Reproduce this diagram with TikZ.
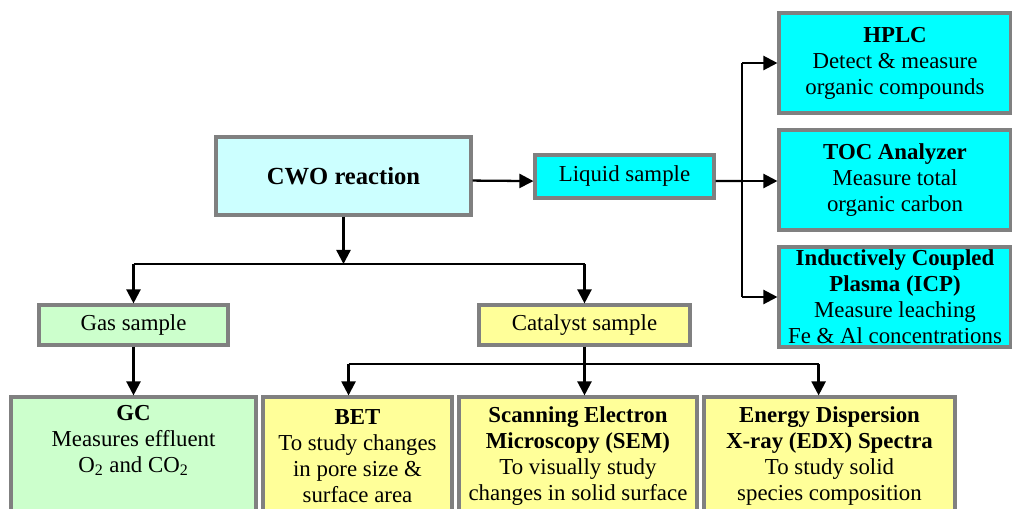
\documentclass[tikz,border=0pt]{standalone}
\usepackage{fontspec}
\setmainfont{Liberation Serif}
\usetikzlibrary{arrows.meta}
\definecolor{boxgray}{HTML}{808080}
\definecolor{cwofill}{HTML}{CCFFFF}
\definecolor{liqfill}{HTML}{00FFFF}
\definecolor{gasfill}{HTML}{CCFFCC}
\definecolor{catfill}{HTML}{FFFF99}
\tikzset{
  box/.style={draw=boxgray,line width=1.8pt,align=center,inner sep=0pt,
    font=\fontsize{13}{14.8}\selectfont},
  arr/.style={line width=1.3pt,-{Triangle[length=8pt,width=8pt]}},
  link/.style={line width=1.3pt},
}
\begin{document}
\begin{tikzpicture}[x=0.02cm,y=-0.02cm]
  \clip (0,0) rectangle (1012,508);
  \fill[white] (0,0) rectangle (1012,508);
  % reaction and liquid branch
  \node[box,fill=cwofill,minimum width=5.1cm,minimum height=1.56cm,font=\fontsize{14}{16}\selectfont\bfseries]
    (cwo) at (343.5,176) {CWO reaction};
  \node[box,fill=liqfill,minimum width=3.58cm,minimum height=0.86cm] (liquid) at (624.5,176.5) {Liquid sample};
  \node[box,fill=liqfill,minimum width=4.64cm,minimum height=2cm] (hplc) at (895,63)
    {\textbf{HPLC}\\Detect \& measure\\organic compounds};
  \node[box,fill=liqfill,minimum width=4.64cm,minimum height=2cm] (toc) at (895,180)
    {\textbf{TOC Analyzer}\\Measure total\\organic carbon};
  \node[box,fill=liqfill,minimum width=4.64cm,minimum height=2cm] (icp) at (895,297)
    {\textbf{Inductively Coupled}\\\textbf{Plasma (ICP)}\\Measure leaching\\Fe \& Al concentrations};
  % gas and catalyst branch
  \node[box,fill=gasfill,minimum width=3.78cm,minimum height=0.8cm] (gas) at (133.5,325) {Gas sample};
  \node[box,fill=catfill,minimum width=4.22cm,minimum height=0.8cm] (catalyst) at (584.5,325) {Catalyst sample};
  \node[box,fill=gasfill,minimum width=4.9cm,minimum height=2.36cm] (gc) at (133.5,456)
    {\textbf{GC}\\Measures effluent\\O\textsubscript{2} and CO\textsubscript{2}\\\strut};
  \node[box,fill=catfill,minimum width=3.78cm,minimum height=2.36cm] (bet) at (357.5,456)
    {\textbf{BET}\\To study changes\\in pore size \&\\surface area};
  \node[box,fill=catfill,minimum width=4.76cm,minimum height=2.36cm] (sem) at (578,456)
    {\textbf{Scanning Electron}\\\textbf{Microscopy (SEM)}\\To visually study\\changes in solid surface};
  \node[box,fill=catfill,minimum width=5.02cm,minimum height=2.36cm] (edx) at (829.5,456)
    {\textbf{Energy Dispersion}\\\textbf{X-ray (EDX) Spectra}\\To study solid\\species composition};
  \coordinate (split) at (348,264);
  \coordinate (lsplit) at (742,181);
  \coordinate (csplit) at (584.5,364);
  % connectors
  \draw[arr] ([yshift=-2.6pt]cwo.east) -- ([yshift=-2.6pt]liquid.west);
  \draw[link] ([yshift=-2.6pt]liquid.east) -- (lsplit);
  \draw[link] (lsplit |- hplc.west) -- (lsplit |- icp.west);
  \draw[arr] (lsplit |- hplc.west) -- (hplc.west);
  \draw[arr] (lsplit) -- (lsplit -| toc.west);
  \draw[arr] (lsplit |- icp.west) -- (icp.west);
  \draw[arr] (cwo.south) -- (cwo.south |- split);
  \draw[link] (gas.north |- split) -- (catalyst.north |- split);
  \draw[arr] (gas.north |- split) -- (gas.north);
  \draw[arr] (catalyst.north |- split) -- (catalyst.north);
  \draw[arr] (gas.south) -- (gc.north);
  \draw[link] (catalyst.south) -- (csplit);
  \draw[link] ([xshift=-5.1pt]bet.north |- csplit) -- ([xshift=-6.2pt]edx.north |- csplit);
  \draw[arr] ([xshift=-5.1pt]bet.north |- csplit) -- ([xshift=-5.1pt]bet.north);
  \draw[arr] (csplit) -- (csplit |- sem.north);
  \draw[arr] ([xshift=-6.2pt]edx.north |- csplit) -- ([xshift=-6.2pt]edx.north);
\end{tikzpicture}
\end{document}
